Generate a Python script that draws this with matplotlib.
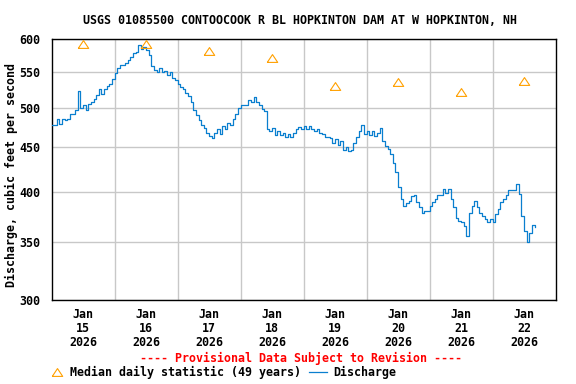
import numpy as np
import pandas as pd
import matplotlib
matplotlib.use("Agg")
import matplotlib.pyplot as plt
import matplotlib.dates as mdates
from matplotlib.lines import Line2D
from matplotlib.ticker import FixedLocator, FixedFormatter, NullLocator

# ---------------- data ----------------
title = "USGS 01085500 CONTOOCOOK R BL HOPKINTON DAM AT W HOPKINTON, NH"
ylabel = "Discharge, cubic feet per second"

day1 = [478, 478, 485, 479, 485, 484, 485, 491, 491, 497, 523, 500,
        503, 497, 505, 507, 511, 517, 525, 518, 525, 529, 532, 540]
day2 = [548, 556, 560, 560, 563, 567, 572, 578, 580, 590, 584, 587,
        583, 575, 558, 553, 550, 555, 549, 551, 546, 549, 541, 538]
day3 = [532, 528, 525, 520, 516, 508, 497, 490, 484, 478, 474, 468,
        464, 461, 468, 472, 466, 476, 472, 480, 478, 485, 492, 500]
day4 = [504, 504, 504, 510, 507, 515, 508, 503, 498, 495, 472, 470,
        474, 465, 470, 465, 468, 462, 466, 462, 468, 472, 475, 472]
day5 = [476, 472, 476, 472, 470, 472, 468, 466, 462, 462, 461, 455,
        460, 453, 458, 447, 450, 446, 447, 455, 462, 470, 478, 466]
day6 = [470, 465, 470, 464, 468, 474, 458, 452, 448, 442, 432, 422,
        405, 392, 385, 388, 390, 395, 397, 389, 384, 378, 380, 380]
day7 = [385, 389, 392, 397, 397, 403, 399, 403, 392, 384, 373, 370,
        369, 365, 356, 378, 385, 390, 384, 378, 375, 372, 369, 372]
day8 = [369, 377, 382, 389, 392, 397, 402, 402, 402, 408, 398, 375,
        360, 350, 358, 366, 364]
discharge = day1 + day2 + day3 + day4 + day5 + day6 + day7 + day8
start_time = "2026-01-15 00:00"

median_days = ["2026-01-15", "2026-01-16", "2026-01-17", "2026-01-18",
               "2026-01-19", "2026-01-20", "2026-01-21", "2026-01-22"]
median_values = [592, 592, 581, 571, 530, 535, 521, 537]

y_ticks = [300, 350, 400, 450, 500, 550, 600]
x_tick_labels = ["Jan\n15\n2026", "Jan\n16\n2026", "Jan\n17\n2026", "Jan\n18\n2026",
                 "Jan\n19\n2026", "Jan\n20\n2026", "Jan\n21\n2026", "Jan\n22\n2026"]

# ---------------- plot ----------------
FONT = "DejaVu Sans Mono"
FS = 8.4
plt.rcParams["font.family"] = FONT
plt.rcParams["font.weight"] = "bold"

times = pd.date_range(start_time, periods=len(discharge), freq="h")
mdays = pd.to_datetime(median_days) + pd.Timedelta(hours=12)

fig = plt.figure(figsize=(5.76, 3.84), dpi=100)
ax = fig.add_axes([51.5 / 576, 1 - 300 / 384, 504 / 576, 261 / 384])

blue = "#0a7fcf"
orange = "#ffa000"

ax.plot(times, discharge, drawstyle="steps-post", color=blue, lw=0.9, zorder=3)

tri = [(-1, -0.75), (1, -0.75), (0, 0.75), (-1, -0.75)]
ax.plot(mdays, median_values, linestyle="none", marker=tri, markersize=7.5,
        markerfacecolor="none", markeredgecolor=orange, markeredgewidth=0.8, zorder=4)

ax.set_yscale("log")
ax.set_ylim(300, 600)
ax.yaxis.set_major_locator(FixedLocator(y_ticks))
ax.yaxis.set_major_formatter(FixedFormatter([str(v) for v in y_ticks]))
ax.yaxis.set_minor_locator(NullLocator())

x0 = pd.Timestamp("2026-01-15 00:00")
x1 = pd.Timestamp("2026-01-23 00:00")
ax.set_xlim(x0, x1)
ax.xaxis.set_major_locator(FixedLocator(mdates.date2num(mdays)))
ax.xaxis.set_major_formatter(FixedFormatter(x_tick_labels))
ax.xaxis.set_minor_locator(FixedLocator(mdates.date2num(pd.date_range("2026-01-16", "2026-01-22", freq="D"))))

ax.grid(False)
ax.grid(True, axis="x", which="minor", color="#c8c8c8", lw=1.0)
ax.grid(True, axis="y", which="major", color="#c8c8c8", lw=1.0)
ax.set_axisbelow(True)

ax.tick_params(axis="both", which="both", length=0)
ax.tick_params(axis="y", pad=8, labelsize=FS)
ax.tick_params(axis="x", pad=6, labelsize=FS)
for lab in ax.get_xticklabels():
    lab.set_linespacing(1.06)
for s in ax.spines.values():
    s.set_linewidth(1.0)
    s.set_color("black")

ax.set_ylabel(ylabel, fontsize=FS, fontweight="bold")
ax.yaxis.set_label_coords(-33 / 504, 0.479)

fig.text(300 / 576, 1 - 20 / 384, title, ha="center", va="center", fontsize=FS, fontweight="bold")
fig.text(301.5 / 576, 1 - 358 / 384, "---- Provisional Data Subject to Revision ----",
         ha="center", va="center", fontsize=FS, fontweight="bold", color="red")

# legend (manual)
ly = 1 - 372 / 384
fig.add_artist(Line2D([57 / 576], [ly], transform=fig.transFigure, marker=tri, markersize=7.5,
                      linestyle="none", markerfacecolor="none", markeredgecolor=orange,
                      markeredgewidth=0.8))
fig.text(70 / 576, ly, "Median daily statistic (49 years)", ha="left", va="center",
         fontsize=FS, fontweight="bold")
fig.add_artist(Line2D([309 / 576, 327 / 576], [ly, ly], transform=fig.transFigure,
                      color=blue, lw=0.9))
fig.text(333 / 576, ly, "Discharge", ha="left", va="center", fontsize=FS, fontweight="bold")

fig.savefig("out.png", dpi=100)
